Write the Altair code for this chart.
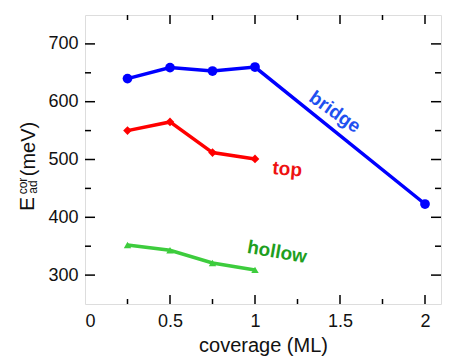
import altair as alt
import pandas as pd

coverage_bridge = [0.25, 0.5, 0.75, 1.0, 2.0]
bridge = [640, 659, 653, 660, 423]
coverage_top = [0.25, 0.5, 0.75, 1.0]
top = [550, 565, 512, 501]
coverage_hollow = [0.25, 0.5, 0.75, 1.0]
hollow = [352, 343, 321, 309]

series = ["bridge", "top", "hollow"]
colors = ["#0000ff", "#ff0000", "#3dcc3d"]
label_colors = ["#1f50f0", "#ee1111", "#1f9f1f"]
shapes = ["circle", "diamond", "triangle-up"]
sizes = [95, 55, 50]

x_major = [0.5, 1.0, 1.5, 2.0]
x_minor = [0.25, 0.75, 1.25, 1.75]
y_major = [300, 400, 500, 600, 700]
y_minor = [350, 450, 550, 650]

lab_text = ["bridge", "top", "hollow"]
lab_x = [1.47, 1.19, 1.13]
lab_y = [582, 483, 340]
lab_angle = [35, 5, 10]

W, H = 356, 289
XDOM = [0, 356 / 170]
YDOM = [250, 750]

rows = []
for s, xs_, ys_ in [("bridge", coverage_bridge, bridge), ("top", coverage_top, top), ("hollow", coverage_hollow, hollow)]:
    for a, b in zip(xs_, ys_):
        rows.append({"series": s, "coverage": a, "E": b})
df = pd.DataFrame(rows)

xs = alt.Scale(domain=XDOM, nice=False, zero=False)
ys = alt.Scale(domain=YDOM, nice=False, zero=False)
color = alt.Color("series:N", scale=alt.Scale(domain=series, range=colors), legend=None)

base = alt.Chart(df)
lines = base.mark_line(strokeWidth=3.5).encode(
    x=alt.X("coverage:Q", scale=xs,
            axis=alt.Axis(values=[0, 0.5, 1, 1.5, 2], format="~g", ticks=False, domain=False, grid=False,
                          labelFontSize=18, labelPadding=8, title="coverage (ML)", titleFontSize=20,
                          titleFontWeight="normal", titlePadding=5, labelColor="#111", titleColor="#111")),
    y=alt.Y("E:Q", scale=ys,
            axis=alt.Axis(values=y_major, ticks=False, domain=False, grid=False, labelFontSize=18,
                          labelPadding=7, title=None, labelColor="#111")),
    color=color, detail="series:N",
)
points = base.mark_point(filled=True, opacity=1).encode(
    x=alt.X("coverage:Q", scale=xs),
    y=alt.Y("E:Q", scale=ys),
    color=color,
    shape=alt.Shape("series:N", scale=alt.Scale(domain=series, range=shapes), legend=None),
    size=alt.Size("series:N", scale=alt.Scale(domain=series, range=sizes), legend=None),
)

ldf = pd.DataFrame({"t": lab_text, "x": lab_x, "y": lab_y})
labels = []
for i in range(3):
    labels.append(alt.Chart(ldf.iloc[[i]]).mark_text(
        fontSize=19, fontWeight="bold", angle=lab_angle[i], color=label_colors[i]
    ).encode(x=alt.X("x:Q", scale=xs), y=alt.Y("y:Q", scale=ys), text="t:N"))

def xt(vals, length):
    d = pd.DataFrame({"v": vals})
    b = alt.Chart(d).mark_rule(color="black", strokeWidth=1.5).encode(
        x=alt.X("v:Q", scale=xs), y=alt.value(H), y2=alt.value(H - length))
    t = alt.Chart(d).mark_rule(color="black", strokeWidth=1.5).encode(
        x=alt.X("v:Q", scale=xs), y=alt.value(0), y2=alt.value(length))
    return [b, t]

def yt(vals, length):
    d = pd.DataFrame({"v": vals})
    l = alt.Chart(d).mark_rule(color="black", strokeWidth=1.5).encode(
        y=alt.Y("v:Q", scale=ys), x=alt.value(0), x2=alt.value(length))
    r = alt.Chart(d).mark_rule(color="black", strokeWidth=1.5).encode(
        y=alt.Y("v:Q", scale=ys), x=alt.value(W), x2=alt.value(W - length))
    return [l, r]

ticks = xt(x_major, 9) + xt(x_minor, 5) + yt(y_major, 10) + yt(y_minor, 6)

tdf = pd.DataFrame({"a": [0]})
def ttxt(s, px, py, fs):
    return alt.Chart(tdf).mark_text(text=s, fontSize=fs, angle=270, align="center", baseline="middle",
                                    color="#111").encode(x=alt.value(px), y=alt.value(py))

ytitle = [ttxt("E", -57, 189, 21), ttxt("ad", -52, 172, 12), ttxt("cor", -62, 171, 12),
          ttxt("(meV)", -56, 134, 20)]

chart = alt.layer(lines, points, *labels, *ticks, *ytitle).properties(
    width=W, height=H, autosize="none",
    padding={"left": 77, "top": 7, "right": 1, "bottom": 52},
).configure_view(stroke="black", strokeWidth=2).configure(font="Liberation Sans")

chart.save("out.html", embed_options={"renderer": "svg", "actions": False})
